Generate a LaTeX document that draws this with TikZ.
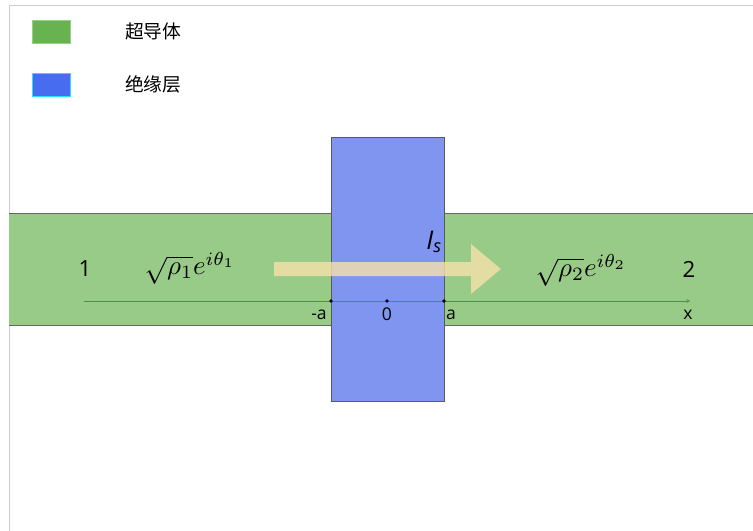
\documentclass[tikz,border=0pt]{standalone}
\usepackage{amsmath}
\usepackage{fontspec}
\setmainfont{Open Sans}
\newfontfamily\cjk{Noto Sans CJK SC}
\usetikzlibrary{arrows.meta}
\definecolor{framegray}{RGB}{205,205,205}
\definecolor{keygreen}{RGB}{104,178,82}
\definecolor{keygreenedge}{RGB}{150,210,130}
\definecolor{keyblue}{RGB}{72,108,240}
\definecolor{keyblueedge}{RGB}{40,225,255}
\definecolor{scgreen}{RGB}{152,203,135}
\definecolor{insblue}{RGB}{127,149,240}
\definecolor{axisgreen}{RGB}{75,145,65}
\definecolor{currentcol}{RGB}{248,226,170}
\tikzset{
  keytext/.style={anchor=west, font=\cjk\fontsize{16}{19}\selectfont},
  ticktext/.style={font=\fontsize{15}{18}\selectfont},
  sidetext/.style={font=\fontsize{19}{22}\selectfont},
  wavetext/.style={scale=2.3}
}

\begin{document}
\begin{tikzpicture}[x=0.03cm, y=-0.03cm, >=stealth]
        \useasboundingbox (0,0) rectangle (753,531);
        \draw[framegray] (9,531) -- (9,5) -- (753,5);
        \filldraw[fill=keygreen, draw=keygreenedge] (32,20) rectangle (70,43);
        \node[keytext] (key-sc) at (121,31) {超导体};
        \filldraw[fill=keyblue, draw=keyblueedge] (32,73) rectangle (70,96);
        \node[keytext] (key-ins) at (121,84) {绝缘层};
        \fill[scgreen] (9,213) rectangle (753,325);
        \draw[gray!80!black, thin] (9,213) -- (753,213) (9,325) -- (753,325);
        \filldraw[fill=insblue, draw=gray!70!black, thin] (331,137) rectangle (444,401);
        \coordinate (ax0) at (84,301);
        \coordinate (ax1) at (690,301);
        \draw[axisgreen, ->] (ax0) -- (ax1);
        \coordinate (ma) at (331,301);
        \coordinate (m0) at (387,301);
        \coordinate (pa) at (444,301);
        \foreach \p in {ma,m0,pa} \fill (\p) circle[radius=1.6pt];
        \node[ticktext] (lbl-ma) at (319,315) {-a};
        \node[ticktext] (lbl-m0) at (387,314) {0};
        \node[ticktext] (lbl-pa) at (451,315) {a};
        \node[ticktext] (lbl-x) at (688,315) {x};
        \coordinate (Is0) at (274,269);
        \coordinate (Is1) at (501,269);
        \begin{scope}[transparency group, opacity=0.8]
        \draw[currentcol, line width=0.42cm, -{Triangle[width=1.44cm, length=0.9cm]}] (Is0) -- (Is1);
        \end{scope}
        \node[font=\fontsize{22}{26}\selectfont\itshape] (lbl-Is) at (434,242) {I\textsubscript{s}};
        \node[sidetext] (side1) at (85,269) {1};
        \node[sidetext] (side2) at (689,269) {2};
        \node[wavetext] (psi1) at (190,268) {$\sqrt{\rho_1}e^{i\theta_1}$};
        \node[wavetext] (psi2) at (581,270) {$\sqrt{\rho_2}e^{i\theta_2}$};
    \end{tikzpicture}
\end{document}
